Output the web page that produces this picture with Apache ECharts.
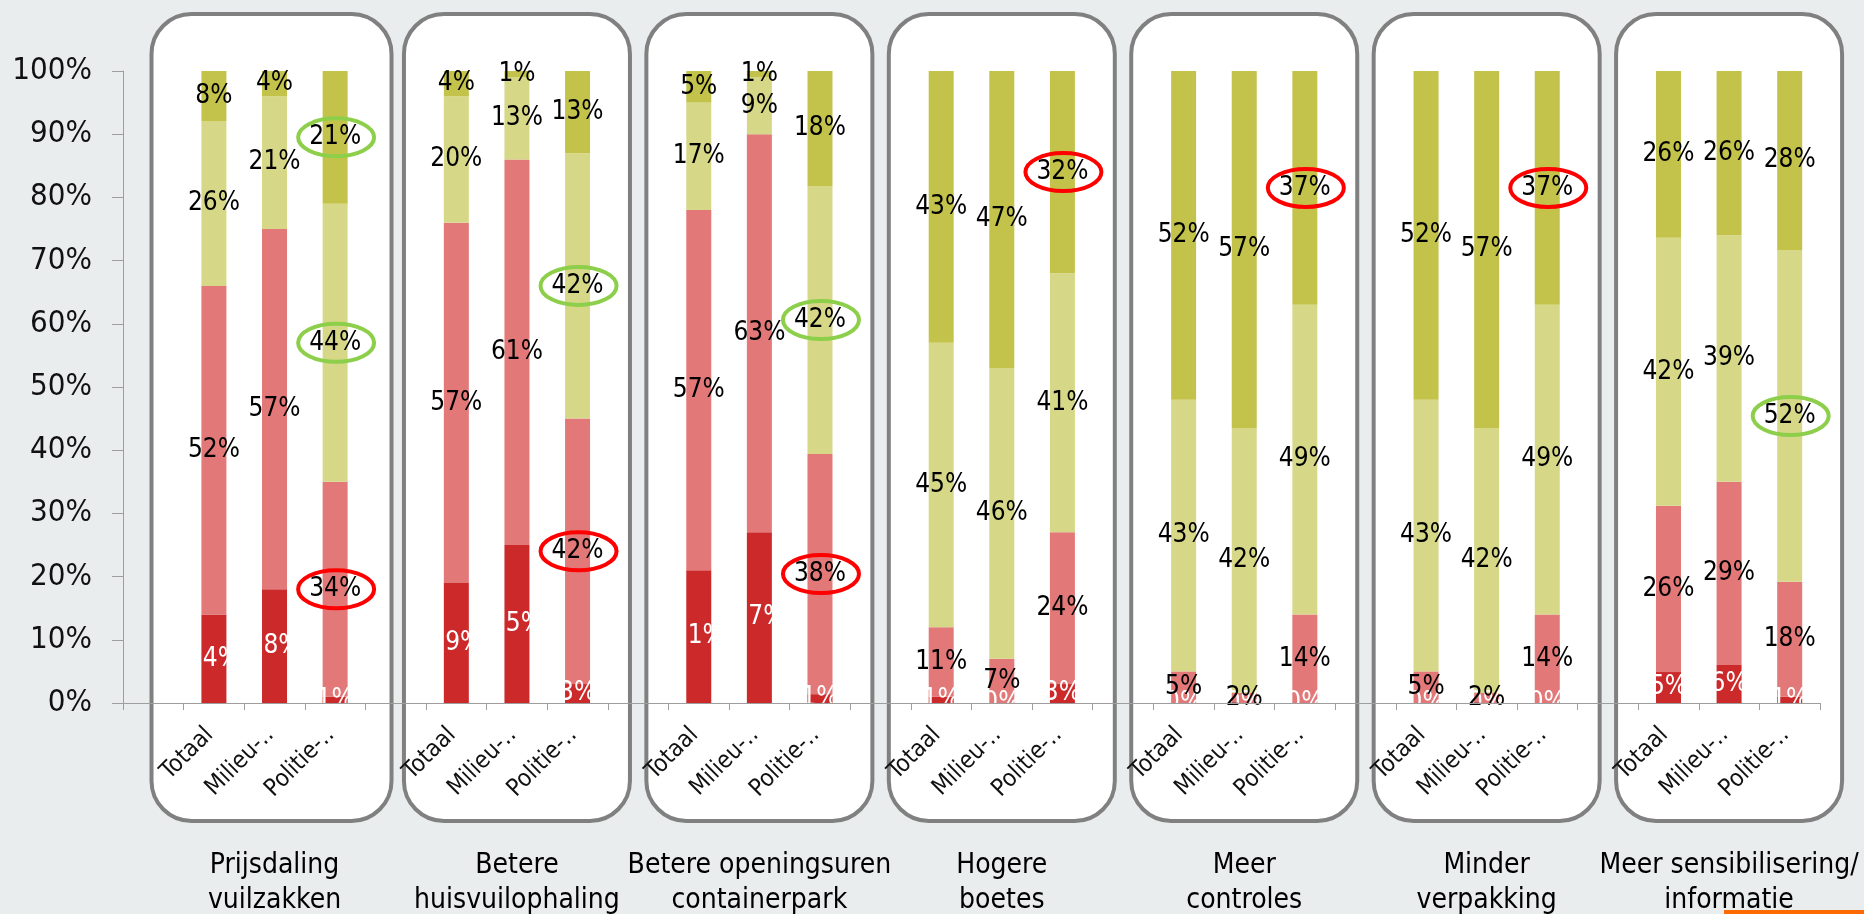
<!DOCTYPE html>
<html>
<head>
<meta charset="utf-8">
<script src="https://cdn.jsdelivr.net/npm/echarts@6/dist/echarts.min.js"></script>
<style>
  html, body { margin: 0; padding: 0; background: #E9EDEE; }
  #chart { width: 1864px; height: 914px; }
</style>
</head>
<body>
<div id="chart"></div>
<script>
// ---------- DATA ----------
const groups = [
  'Prijsdaling\nvuilzakken',
  'Betere\nhuisvuilophaling',
  'Betere openingsuren\ncontainerpark',
  'Hogere\nboetes',
  'Meer\ncontroles',
  'Minder\nverpakking',
  'Meer sensibilisering/\ninformatie'
];
const subCategories = ['Totaal', 'Milieu-‥', 'Politie-‥'];
const seriesNames = ['Zeer groot effect', 'Groot effect', 'Klein effect', 'Geen effect'];

// per group: [Totaal, Milieu, Politie]  (bottom segment first)
const darkRed    = [[14, 18, 1], [19, 25, 3], [21, 27, 1.4], [1, 0, 3], [0, 0, 0], [0, 0, 0], [4.9, 6, 1]];
const lightRed   = [[52, 57, 34], [57, 61, 42], [57, 63, 38], [11, 7, 24], [5, 1.6, 14], [5, 1.6, 14], [26.3, 29, 18.2]];
const lightOlive = [[26, 21, 44], [20, 13, 42], [17, 9, 42.4], [45, 46, 41], [43, 41.9, 49], [43, 41.9, 49], [42.4, 39, 52.4]];
const olive      = [[8, 4, 21], [4, 1, 13], [5, 1, 18.2], [43, 47, 32], [52, 56.5, 37], [52, 56.5, 37], [26.4, 26, 28.4]];

// highlighted labels: [group, subCategory, seriesIndex]
const circledRed   = [[0, 2, 1], [1, 2, 1], [2, 2, 1], [3, 2, 3], [4, 2, 3], [5, 2, 3]];
const circledGreen = [[0, 2, 3], [0, 2, 2], [1, 2, 2], [2, 2, 2], [6, 2, 2]];

// ---------- BUILD ----------
const FONT = "'DejaVu Sans Condensed', 'DejaVu Sans', sans-serif";
const seriesValues = [darkRed, lightRed, lightOlive, olive];
const seriesColors = ['#CC292A', '#E27878', '#D6D887', '#C3C34B'];
const labelColors  = ['#FFFFFF', '#000000', '#000000', '#000000'];

const categories = [];
groups.forEach(() => { categories.push(''); subCategories.forEach(s => categories.push(s)); });
const catIndex = (g, s) => g * 4 + 1 + s;

function expand(arr) {
  const out = [];
  arr.forEach(triple => { out.push('-'); triple.forEach(v => out.push(v)); });
  return out;
}

const series = seriesValues.map((vals, i) => ({
  name: seriesNames[i],
  type: 'bar',
  stack: 'total',
  barWidth: 25,
  data: expand(vals),
  itemStyle: { color: seriesColors[i] },
  label: {
    show: true,
    position: 'inside',
    color: labelColors[i],
    fontFamily: FONT,
    fontSize: 26,
    formatter: p => (p.value === '-' || p.value == null) ? '' : Math.round(p.value) + '%'
  },
  emphasis: { disabled: true },
  silent: true
}));

const chart = echarts.init(document.getElementById('chart'), null, { renderer: 'canvas' });
const option = {
  backgroundColor: '#E9EDEE',
  animation: false,
  grid: { left: 123, right: 44, top: 71, bottom: 211, containLabel: false, outerBoundsMode: 'none' },
  xAxis: {
    type: 'category',
    data: categories,
    boundaryGap: true,
    z: 5,
    axisLine: { show: true, lineStyle: { color: '#9E9E9E', width: 1 } },
    axisTick: { show: true, interval: 0, length: 7, lineStyle: { color: '#9E9E9E' } },
    axisLabel: { interval: 0, rotate: 45, margin: 24, color: '#111', fontFamily: FONT, fontSize: 24, padding: [0, 6, 0, 0] },
    splitLine: { show: false }
  },
  yAxis: {
    type: 'value',
    min: 0, max: 100, interval: 10,
    z: 5,
    axisLine: { show: true, lineStyle: { color: '#9E9E9E', width: 1 } },
    axisTick: { show: true, inside: false, length: 11, lineStyle: { color: '#9E9E9E' } },
    axisLabel: { formatter: '{value}%', margin: 31, color: '#111', fontFamily: FONT, fontSize: 31 },
    splitLine: { show: false }
  },
  series: series
};
chart.setOption(option);

// ---------- DECORATION (positions derived from the axes) ----------
const graphics = [];
groups.forEach((g, i) => {
  const cx = chart.convertToPixel({ xAxisIndex: 0 }, catIndex(i, 1));
  const extra = i === 0 ? 10 : 0;
  graphics.push({
    type: 'rect', z: -10, silent: true,
    shape: { x: cx - 113 - extra, y: 14, width: 226 + extra + (i === 0 ? 4 : 0), height: 807, r: 40 },
    style: { fill: '#FFFFFF', stroke: '#808080', lineWidth: 4 }
  });
  graphics.push({
    type: 'text', z: 10, silent: true,
    x: cx, y: 848,
    style: { text: g, fill: '#000', fontFamily: FONT, fontSize: 28, lineHeight: 35, align: 'center', verticalAlign: 'top' }
  });
});

function addEllipse(list, color) {
  list.forEach(([g, s, si]) => {
    let below = 0;
    for (let k = 0; k < si; k++) below += seriesValues[k][g][s];
    const mid = below + seriesValues[si][g][s] / 2;
    const [px, py] = chart.convertToPixel({ gridIndex: 0 }, [catIndex(g, s), mid]);
    graphics.push({
      type: 'ellipse', z: 20, silent: true,
      shape: { cx: px + 1, cy: py, rx: 38, ry: 19 },
      style: { fill: 'rgba(0,0,0,0)', stroke: color, lineWidth: 4 }
    });
  });
}
addEllipse(circledRed, '#FF0000');
addEllipse(circledGreen, '#8DCF4A');

graphics.push({
  type: 'rect', z: 20, silent: true,
  shape: { x: 1724, y: 910, width: 140, height: 4 },
  style: { fill: '#FF6A00' }
});

chart.setOption({ graphic: { elements: graphics } });
</script>
</body>
</html>
